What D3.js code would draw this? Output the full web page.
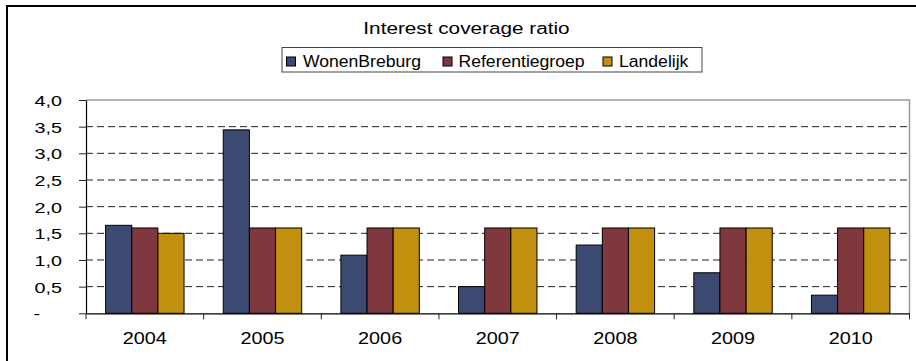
<!DOCTYPE html>
<html>
<head>
<meta charset="utf-8">
<script src="https://cdn.jsdelivr.net/npm/d3@7"></script>
<style>
  html, body { margin: 0; padding: 0; background: #fff; }
  svg { display: block; font-family: "Liberation Sans", Arial, sans-serif; }
</style>
</head>
<body>
<svg id="chart" width="916" height="361"></svg>
<script>
const years = ["2004", "2005", "2006", "2007", "2008", "2009", "2010"];
const seriesNames = ["WonenBreburg", "Referentiegroep", "Landelijk"];
const wonenBreburg = [1.65, 3.44, 1.09, 0.50, 1.28, 0.76, 0.34];
const referentiegroep = [1.60, 1.60, 1.60, 1.60, 1.60, 1.60, 1.60];
const landelijk = [1.50, 1.60, 1.60, 1.60, 1.60, 1.60, 1.60];
const yTicks = [0, 0.5, 1.0, 1.5, 2.0, 2.5, 3.0, 3.5, 4.0];
const colors = ["#3C4A72", "#7F383D", "#C1900E"];

const seriesValues = [wonenBreburg, referentiegroep, landelijk];
const rows = years.map((y, i) => ({ year: y, values: seriesValues.map(s => s[i]) }));

const svg = d3.select("#chart");
const plot = { left: 86, right: 909.5, top: 100, bottom: 313.3 };

// Outer frame (left and top visible; right/bottom extend beyond view)
svg.append("rect")
  .attr("x", 7).attr("y", 6)
  .attr("width", 960).attr("height", 400)
  .attr("fill", "none").attr("stroke", "#000").attr("stroke-width", 2);

const x = d3.scaleBand().domain(years).range([plot.left, plot.right]).padding(0);
const xs = d3.scaleBand().domain(d3.range(3)).range([0, x.bandwidth()])
  .paddingInner(0).paddingOuter(0.75);
const y = d3.scaleLinear().domain([0, 4]).range([plot.bottom, plot.top]);

// Title
svg.append("text")
  .attr("transform", `translate(466.5,34) scale(1.22,1)`)
  .attr("text-anchor", "middle")
  .attr("font-size", 17)
  .attr("fill", "#000")
  .text("Interest coverage ratio");

// Legend
const legend = svg.append("g");
legend.append("rect")
  .attr("x", 282).attr("y", 47.5).attr("width", 420).attr("height", 24.5)
  .attr("fill", "#fff").attr("stroke", "#444").attr("stroke-width", 1);
const legendSquareX = [286.5, 443, 603];
const legendTextX = [303, 458.5, 619];
seriesNames.forEach((name, i) => {
  legend.append("rect")
    .attr("x", legendSquareX[i]).attr("y", 57).attr("width", 9).attr("height", 9)
    .attr("fill", colors[i]).attr("stroke", "#000").attr("stroke-width", 1);
  legend.append("text")
    .attr("transform", `translate(${legendTextX[i]},67) scale(1.1,1)`)
    .attr("font-size", 16)
    .attr("fill", "#000")
    .text(name);
});

// Gridlines (dashed)
svg.append("g").selectAll("line")
  .data(yTicks.filter(t => t > 0 && t < 4))
  .join("line")
  .attr("x1", plot.left).attr("x2", plot.right)
  .attr("y1", d => y(d)).attr("y2", d => y(d))
  .attr("stroke", "#222").attr("stroke-width", 1)
  .attr("stroke-dasharray", "7,4");

// Plot area border top and right (gray)
svg.append("path")
  .attr("d", `M${plot.left},${y(4)}H${plot.right}V${plot.bottom}`)
  .attr("fill", "none").attr("stroke", "#9a9a9a").attr("stroke-width", 1.5);

// Bars
const groups = svg.append("g").selectAll("g")
  .data(rows).join("g")
  .attr("transform", d => `translate(${x(d.year)},0)`);
groups.selectAll("rect")
  .data(d => d.values.map((v, i) => ({ v, i })))
  .join("rect")
  .attr("x", d => xs(d.i))
  .attr("width", xs.bandwidth())
  .attr("y", d => y(d.v))
  .attr("height", d => y(0) - y(d.v))
  .attr("fill", d => colors[d.i])
  .attr("stroke", "#000").attr("stroke-width", 1);

// Y axis
const ySx = 1.32;
const yAxis = svg.append("g")
  .attr("transform", `translate(${plot.left},0)`)
  .call(d3.axisLeft(y).tickValues(yTicks).tickSize(7).tickSizeOuter(0)
    .tickFormat(d => d === 0 ? "-\u00a0\u00a0\u00a0\u00a0" : d3.format(".1f")(d).replace(".", ",")));
yAxis.select(".domain").attr("stroke", "#000").attr("stroke-width", 1.2);
yAxis.selectAll(".tick line").attr("stroke", "#222");
yAxis.selectAll(".tick text")
  .attr("font-size", 15)
  .attr("font-family", "'Liberation Sans', Arial, sans-serif")
  .attr("fill", "#000")
  .attr("x", -24 / ySx)
  .attr("dy", "0.36em")
  .attr("transform", `scale(${ySx},1)`);

// X axis
const xAxis = svg.append("g")
  .attr("transform", `translate(0,${plot.bottom})`)
  .call(d3.axisBottom(x).tickSize(0).tickSizeOuter(0));
xAxis.select(".domain").attr("stroke", "#000").attr("stroke-width", 1.2);
xAxis.selectAll(".tick text")
  .attr("font-size", 16)
  .attr("font-family", "'Liberation Sans', Arial, sans-serif")
  .attr("fill", "#000")
  .attr("y", 30.5)
  .attr("dy", 0)
  .attr("transform", "scale(1.24,1)");
// category boundary ticks
const boundaries = years.map(d => x(d)).concat([x(years[years.length - 1]) + x.bandwidth()]);
xAxis.append("g").selectAll("line")
  .data(boundaries).join("line")
  .attr("x1", d => d).attr("x2", d => d)
  .attr("y1", 0).attr("y2", 6)
  .attr("stroke", "#222").attr("stroke-width", 1);
</script>
</body>
</html>
